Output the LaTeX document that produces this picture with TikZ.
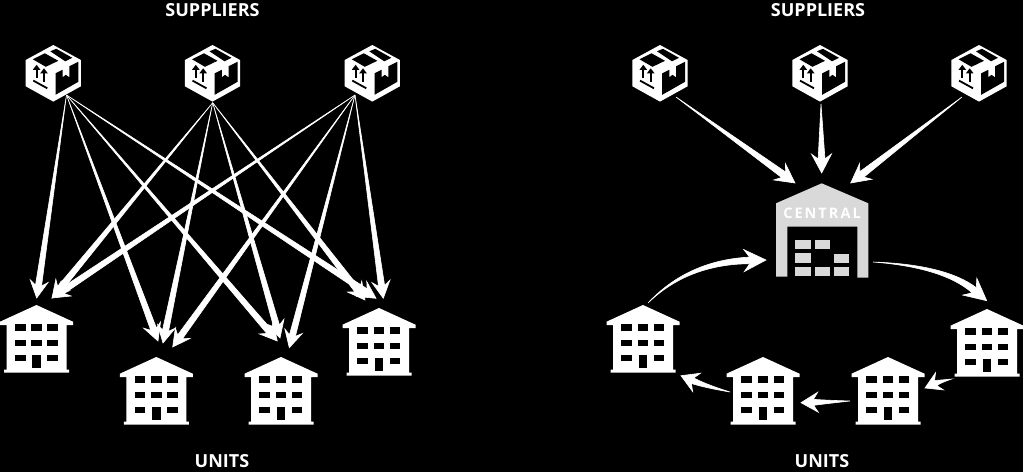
\documentclass[tikz,border=0pt]{standalone}
\usepackage{fontspec}
\setmainfont{Open Sans}
\usetikzlibrary{calc}
\definecolor{centralgray}{HTML}{D9D9D9}
\newcommand{\straightflow}[4]{% tail, tip, head length, barb half width
  \coordinate (fH) at ($(#2)!#3 pt!(#1)$);
  \coordinate (fN) at ($(#2)!#3*0.74 pt!(#1)$);
  \filldraw[flowline] (#1)
    -- ($(fN)!#4*0.34 pt!90:(#2)$) -- ($(fH)!#4 pt!90:(#2)$) -- (#2)
    -- ($(fH)!#4 pt!-90:(#2)$) -- ($(fN)!#4*0.34 pt!-90:(#2)$) -- cycle;
}
\newcommand{\curvedflow}[5]{% tail, control, tip, head length, barb half width
  \coordinate (fH) at ($(#3)!#4 pt!(#2)$);
  \coordinate (fN) at ($(#3)!#4*0.74 pt!(#2)$);
  \coordinate (fA) at ($(fN)!#5*0.3 pt!90:(#3)$);
  \coordinate (fB) at ($(fN)!#5*0.3 pt!-90:(#3)$);
  \coordinate (fCa) at ($(#2)!#5*0.18 pt!90:(#3)$);
  \coordinate (fCb) at ($(#2)!#5*0.18 pt!-90:(#3)$);
  \filldraw[flowline] (#1)
    .. controls ($(#1)!.66!(fCa)$) and ($(fA)!.66!(fCa)$) .. (fA)
    -- ($(fH)!#5 pt!90:(#3)$) -- (#3) -- ($(fH)!#5 pt!-90:(#3)$) -- (fB)
    .. controls ($(fB)!.66!(fCb)$) and ($(#1)!.66!(fCb)$) .. (#1) -- cycle;
}
\tikzset{
  flowline/.style={fill=white,draw=white,line width=0.6pt,line join=miter},
  anchorbox/.style={inner sep=0pt,minimum width=55pt,minimum height=57pt},
  anchorunit/.style={inner sep=0pt,minimum width=73pt,minimum height=68pt},
  heading/.style={text=white,font=\bfseries\fontsize{18}{20}\selectfont,inner sep=0pt},
  cratebox/.pic={
    \fill[white] (0,-28.3) -- (27.6,-13.3) -- (27.6,13) -- (0,28.3) -- (-27.6,13) -- (-27.6,-13.3) -- cycle;
    \fill[black] (-20.5,-14) -- (-8.5,-20) -- (5,-12.5) -- (-7.5,-6.5) -- cycle;
    \fill[black] (-3,-22) -- (3,-24.5) -- (19,-15.5) -- (12,-12) -- cycle;
    \fill[black] (2.2,0) -- (9.3,-3.5) -- (9.3,4) -- (12.5,1.5) -- (16,4) -- (16,-7) -- (25,-11.5) -- (25,8.5) -- (2.2,21.5) -- cycle;
    \draw[black,line width=1.8pt] (-16.7,-5) -- (-16.7,5) (-9.3,-1.5) -- (-9.3,8.3);
    \fill[black] (-16.7,-8.5) -- (-12.9,-3.5) -- (-20.5,-3.5) -- cycle;
    \fill[black] (-9.3,-5) -- (-5.5,0) -- (-13.1,0) -- cycle;
    \draw[black,line width=1.8pt] (-20,7.3) -- (-6,15);
  },
  unitblock/.pic={
    \fill[white] (0,-34) -- (36.5,-17.3) -- (36.5,-14) -- (30,-14) -- (30,30.5) -- (32.5,30.5) -- (32.5,33.5)
      -- (-32.5,33.5) -- (-32.5,30.5) -- (-30,30.5) -- (-30,-14) -- (-36.5,-14) -- (-36.5,-17.3) -- cycle;
    \foreach \cx/\cy in {-16.3/-11.5,0/-11.5,16/-11.5,-16.3/4,0/4,16/4,-16.3/19.2,16/19.2}
      \fill[black] (\cx-5.3,\cy-3.2) rectangle (\cx+5.3,\cy+3.2);
    \fill[black] (-4.3,16) rectangle (4.3,28.7);
  },
}
\begin{document}
\begin{tikzpicture}[x=1pt,y=-1pt]
\useasboundingbox (0,0) rectangle (1023,472);
\fill[black] (0,0) rectangle (1023,472);

% labels
\node[heading] (lsup) at (212.5,10) {SUPPLIERS};
\node[heading] (lun) at (222,461) {UNITS};
\node[heading] (rsup) at (818,10) {SUPPLIERS};
\node[heading] (run) at (822,461) {UNITS};

% left side
\foreach \n/\x in {s1/53.3,s2/212.5,s3/372.3} {
  \node[anchorbox] (\n) at (\x,73.3) {};
  \pic at (\n) {cratebox};
}
\foreach \n/\x/\y in {u1/36.5/339,u2/156.3/391,u3/281/391,u4/379/342} {
  \node[anchorunit] (\n) at (\x,\y) {};
  \pic at (\n) {unitblock};
}
% right side
\foreach \n/\x in {r1/660,r2/820,r3/979} {
  \node[anchorbox] (\n) at (\x,73.3) {};
  \pic at (\n) {cratebox};
}
\foreach \n/\x/\y in {v1/643/339,v2/763/391,v3/888/391,v4/987/343} {
  \node[anchorunit] (\n) at (\x,\y) {};
  \pic at (\n) {unitblock};
}

% central warehouse
\node[inner sep=0pt,minimum width=92pt,minimum height=94pt] (c) at (822,230.5) {};
\fill[centralgray] (821.7,183.3) -- (868.3,203.3) -- (868.3,277.7) -- (857.3,277.7) -- (857.3,226.7)
  -- (787.3,226.7) -- (787.3,276.7) -- (776,276.7) -- (776,203.3) -- cycle;
\foreach \xa/\xb/\ya/\yb in {795/810.7/240/249.3, 814.7/830/240/249.3,
   795/810.7/253.3/262.7, 834.3/849.3/254/263.3,
   795/810.7/266.7/276, 814.7/830/267/276.3, 834.3/849.3/267/276.3}
  \fill[centralgray] (\xa,\ya) rectangle (\xb,\yb);
\node[text=white,inner sep=0pt,font=\bfseries\fontsize{14.5}{16}\selectfont\addfontfeature{LetterSpace=14}] (clab) at (822,213.5) {CENTRAL};

% connector ends, left
\coordinate (s1o) at (66.5,95);
\coordinate (s2o) at (212.7,102.7);
\coordinate (s3o) at (355,95);
\coordinate (u1a) at (36.7,298);
\coordinate (u1b) at (52,298);
\coordinate (u2a) at (158,341);
\coordinate (u2b) at (163,343);
\coordinate (u2c) at (172.7,347);
\coordinate (u3a) at (277.3,341);
\coordinate (u3b) at (280,338);
\coordinate (u3c) at (289.3,347.7);
\coordinate (u4a) at (376,298.3);
\coordinate (u4b) at (365,300);
\coordinate (u4c) at (383.3,298.3);
\straightflow{s1o}{u1a}{17}{9}
\straightflow{s1o}{u2a}{17}{9}
\straightflow{s1o}{u3a}{17}{9}
\straightflow{s1o}{u4a}{17}{9}
\straightflow{s2o}{u1b}{17}{9}
\straightflow{s2o}{u2b}{17}{9}
\straightflow{s2o}{u3b}{17}{9}
\straightflow{s2o}{u4b}{17}{9}
\straightflow{s3o}{u1b}{17}{9}
\straightflow{s3o}{u2c}{17}{9}
\straightflow{s3o}{u3c}{17}{9}
\straightflow{s3o}{u4c}{17}{9}

% connector ends, right
\coordinate (r1o) at (676,97);
\coordinate (r2o) at (821,104);
\coordinate (r3o) at (962,97);
\coordinate (c1) at (795,183);
\coordinate (c2) at (821.7,173);
\coordinate (c3) at (850.7,183);
\straightflow{r1o}{c1}{19}{10}
\straightflow{r2o}{c2}{19}{10}
\straightflow{r3o}{c3}{19}{10}

\coordinate (v1o) at (648,303);
\coordinate (k1) at (688,262);
\coordinate (c4) at (766,260);
\curvedflow{v1o}{k1}{c4}{22}{11}
\coordinate (c5) at (873,262);
\coordinate (k2) at (945,266);
\coordinate (v4i) at (986.7,300.7);
\curvedflow{c5}{k2}{v4i}{22}{11}
\coordinate (v4o) at (951.7,379);
\coordinate (k3) at (938,382);
\coordinate (v3i) at (925,388);
\curvedflow{v4o}{k3}{v3i}{16}{9.5}
\coordinate (v3o) at (850,401);
\coordinate (k4) at (825,402);
\coordinate (v2i) at (801,402.7);
\curvedflow{v3o}{k4}{v2i}{17}{10}
\coordinate (v2o) at (730,392);
\coordinate (k5) at (705,386);
\coordinate (v1i) at (681,375.7);
\curvedflow{v2o}{k5}{v1i}{17}{10}
\end{tikzpicture}
\end{document}
